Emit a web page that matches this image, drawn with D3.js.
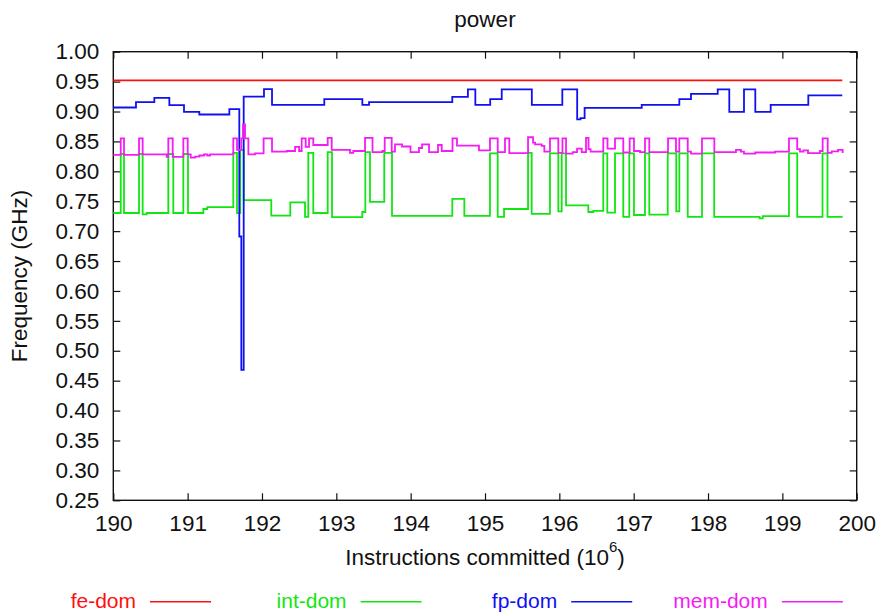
<!DOCTYPE html>
<html>
<head>
<meta charset="utf-8">
<script src="https://cdn.jsdelivr.net/npm/d3@7"></script>
<style>
  html, body { margin: 0; padding: 0; background: #fff; }
  svg { display: block; font-family: "Liberation Sans", Arial, Helvetica, sans-serif; }
</style>
</head>
<body>
<svg id="chart" width="880" height="613"></svg>
<script>
// ---- data ---------------------------------------------------------------
const chartTitle = "power";
const xAxisLabel = "Instructions committed (10";
const xAxisExponent = "6";
const yAxisLabel = "Frequency (GHz)";

const xTicks = [190, 191, 192, 193, 194, 195, 196, 197, 198, 199, 200];
const yTicks = [0.25, 0.30, 0.35, 0.40, 0.45, 0.50, 0.55, 0.60, 0.65, 0.70,
                0.75, 0.80, 0.85, 0.90, 0.95, 1.00];

const seriesNames = ["fe-dom", "int-dom", "fp-dom", "mem-dom"];

// each entry: [instructions (10^6), frequency (GHz)], held until the next entry
const feDom = [[190.000, 0.952], [199.806, 0.952]];

const intDom = [
  [190.000, 0.7303], [190.100, 0.829], [190.144, 0.7303], [190.346, 0.829],
  [190.395, 0.728], [190.449, 0.7303], [190.740, 0.829], [190.807, 0.7303],
  [190.942, 0.829], [191.005, 0.7303], [191.211, 0.737], [191.264, 0.740],
  [191.614, 0.831], [191.664, 0.730], [191.708, 0.836], [191.754, 0.752],
  [192.125, 0.726], [192.381, 0.748], [192.579, 0.724], [192.623, 0.831],
  [192.690, 0.7303], [192.884, 0.832], [192.942, 0.7235], [193.349, 0.732],
  [193.390, 0.832], [193.453, 0.749], [193.645, 0.831], [193.749, 0.7255],
  [194.560, 0.754], [194.722, 0.7255], [195.067, 0.830], [195.171, 0.7237],
  [195.256, 0.737], [195.579, 0.831], [195.628, 0.7287], [195.874, 0.830],
  [195.986, 0.733], [196.032, 0.830], [196.090, 0.743], [196.390, 0.732],
  [196.457, 0.734], [196.591, 0.830], [196.645, 0.731], [196.749, 0.830],
  [196.860, 0.7237], [196.941, 0.830], [197.004, 0.727], [197.152, 0.830],
  [197.210, 0.7275], [197.458, 0.830], [197.573, 0.733], [197.614, 0.830],
  [197.727, 0.7237], [197.919, 0.830], [198.083, 0.7237], [198.693, 0.7215],
  [198.736, 0.725], [199.089, 0.830], [199.200, 0.7237], [199.540, 0.830],
  [199.607, 0.7237], [199.811, 0.7237]
];

const fpDom = [
  [190.000, 0.9067], [190.305, 0.9156], [190.552, 0.9229], [190.754, 0.9106],
  [190.951, 0.8994], [191.157, 0.8950], [191.561, 0.9040], [191.695, 0.6910],
  [191.722, 0.4680], [191.754, 0.9250], [192.027, 0.9373], [192.135, 0.9110],
  [192.838, 0.9206], [193.350, 0.9110], [193.440, 0.9156], [194.560, 0.9245],
  [194.770, 0.9370], [194.870, 0.9110], [195.070, 0.9206], [195.225, 0.9370],
  [195.630, 0.9110], [196.040, 0.9370], [196.240, 0.8870], [196.285, 0.8890],
  [196.340, 0.9060], [197.108, 0.9110], [197.614, 0.9206], [197.771, 0.9295],
  [198.130, 0.9370], [198.286, 0.8994], [198.484, 0.9370], [198.636, 0.8994],
  [198.843, 0.9110], [199.349, 0.9270], [199.806, 0.9270]
];

const memDom = [
  [190.000, 0.8275], [190.100, 0.855], [190.144, 0.8275], [190.346, 0.855],
  [190.395, 0.8285], [190.718, 0.824], [190.740, 0.855], [190.799, 0.824],
  [190.942, 0.855], [191.001, 0.8285], [191.041, 0.823], [191.099, 0.8245],
  [191.157, 0.8265], [191.220, 0.8285], [191.264, 0.8265], [191.301, 0.8285],
  [191.614, 0.855], [191.664, 0.8357], [191.722, 0.855], [191.745, 0.8786],
  [191.772, 0.855], [191.817, 0.8285], [191.906, 0.830], [192.022, 0.855],
  [192.135, 0.833], [192.333, 0.834], [192.445, 0.841], [192.499, 0.834],
  [192.534, 0.855], [192.588, 0.841], [192.633, 0.855], [192.690, 0.844],
  [192.884, 0.856], [192.938, 0.836], [193.184, 0.831], [193.228, 0.834],
  [193.386, 0.856], [193.487, 0.832], [193.619, 0.834], [193.651, 0.856],
  [193.745, 0.833], [193.789, 0.845], [193.884, 0.8415], [193.998, 0.832],
  [194.112, 0.839], [194.153, 0.845], [194.247, 0.832], [194.368, 0.844],
  [194.418, 0.834], [194.563, 0.855], [194.623, 0.843], [194.919, 0.835],
  [195.067, 0.855], [195.171, 0.832], [195.269, 0.855], [195.327, 0.8305],
  [195.579, 0.857], [195.646, 0.848], [195.673, 0.845], [195.763, 0.8425],
  [195.798, 0.833], [195.874, 0.855], [195.986, 0.831], [196.042, 0.855],
  [196.090, 0.8295], [196.180, 0.832], [196.238, 0.838], [196.301, 0.832],
  [196.359, 0.856], [196.393, 0.837], [196.420, 0.833], [196.591, 0.855],
  [196.648, 0.838], [196.749, 0.855], [196.860, 0.8315], [196.946, 0.855],
  [197.004, 0.834], [197.085, 0.832], [197.152, 0.855], [197.210, 0.832],
  [197.462, 0.855], [197.569, 0.833], [197.614, 0.855], [197.727, 0.833],
  [197.771, 0.8295], [197.919, 0.855], [198.085, 0.832], [198.376, 0.836],
  [198.443, 0.833], [198.484, 0.8295], [198.635, 0.8315], [198.901, 0.833],
  [199.089, 0.855], [199.200, 0.837], [199.237, 0.833], [199.282, 0.835],
  [199.345, 0.8305], [199.506, 0.834], [199.542, 0.855], [199.610, 0.831],
  [199.664, 0.8335], [199.749, 0.836], [199.811, 0.8305]
];

// ---- layout & style -----------------------------------------------------
const plot = { left: 113.3, right: 856.7, top: 51.7, bottom: 500.3 };
const colors = ["#ff1010", "#12e612", "#1010f0", "#f41cf4"];
const ink = "#111";
const fontSize = 22.5;
const legendFontSize = 21;

const svg = d3.select("#chart");

const x = d3.scaleLinear().domain([190, 200]).range([plot.left, plot.right]);
const y = d3.scaleLinear().domain([0.25, 1.00]).range([plot.bottom, plot.top]);

// ---- axes (ticks point inward, mirrored on top/right) -------------------
function styleAxis(g) {
  g.select(".domain").remove();
  g.selectAll(".tick line").attr("stroke", ink).attr("stroke-width", 1.2);
  g.selectAll(".tick text").attr("fill", ink).attr("font-size", fontSize)
    .attr("font-family", "Liberation Sans, Arial, sans-serif");
}

svg.append("g")
  .attr("transform", `translate(0,${plot.bottom})`)
  .call(d3.axisBottom(x).tickValues(xTicks).tickFormat(d3.format("d"))
        .tickSizeInner(-7).tickSizeOuter(0).tickPadding(14.5))
  .call(styleAxis);

svg.append("g")
  .attr("transform", `translate(${plot.left},0)`)
  .call(d3.axisLeft(y).tickValues(yTicks).tickFormat(d3.format(".2f"))
        .tickSizeInner(-7).tickSizeOuter(0).tickPadding(14))
  .call(styleAxis);

svg.append("g")
  .attr("transform", `translate(0,${plot.top})`)
  .call(d3.axisTop(x).tickValues(xTicks).tickFormat("")
        .tickSizeInner(-7).tickSizeOuter(0))
  .call(styleAxis);

svg.append("g")
  .attr("transform", `translate(${plot.right},0)`)
  .call(d3.axisRight(y).tickValues(yTicks).tickFormat("")
        .tickSizeInner(-7).tickSizeOuter(0))
  .call(styleAxis);

// plot frame
svg.append("rect")
  .attr("x", plot.left).attr("y", plot.top)
  .attr("width", plot.right - plot.left).attr("height", plot.bottom - plot.top)
  .attr("fill", "none").attr("stroke", ink).attr("stroke-width", 1.4);

// ---- step series --------------------------------------------------------
const line = d3.line()
  .x(d => x(d[0]))
  .y(d => y(d[1]))
  .curve(d3.curveStepAfter);

const seriesData = [feDom, intDom, fpDom, memDom];
seriesData.forEach((data, i) => {
  svg.append("path")
    .datum(data)
    .attr("d", line)
    .attr("fill", "none")
    .attr("stroke", colors[i])
    .attr("stroke-width", 1.8)
    .attr("stroke-linejoin", "miter");
});

// ---- titles -------------------------------------------------------------
const midX = (plot.left + plot.right) / 2;
const midY = (plot.top + plot.bottom) / 2;

svg.append("text")
  .attr("x", midX).attr("y", 27)
  .attr("text-anchor", "middle")
  .attr("font-size", fontSize).attr("fill", ink)
  .text(chartTitle);

const xl = svg.append("text")
  .attr("x", midX).attr("y", 565)
  .attr("text-anchor", "middle")
  .attr("font-size", fontSize).attr("fill", ink);
xl.append("tspan").text(xAxisLabel);
xl.append("tspan").attr("dy", -13).attr("font-size", 15).text(xAxisExponent);
xl.append("tspan").attr("dy", 13).text(")");

svg.append("text")
  .attr("transform", `translate(27,${midY}) rotate(-90)`)
  .attr("text-anchor", "middle")
  .attr("font-size", fontSize).attr("fill", ink)
  .text(yAxisLabel);

// ---- legend (below the plot, text then sample line) ---------------------
const legendY = 601.7;
const legend = svg.append("g");
seriesNames.forEach((name, i) => {
  const x0 = 150 + i * 210.6;
  legend.append("text")
    .attr("x", x0 - 14).attr("y", legendY + 6.3)
    .attr("text-anchor", "end")
    .attr("font-size", legendFontSize)
    .attr("fill", colors[i])
    .text(name);
  legend.append("line")
    .attr("x1", x0).attr("x2", x0 + 61)
    .attr("y1", legendY).attr("y2", legendY)
    .attr("stroke", colors[i]).attr("stroke-width", 1.5);
});
</script>
</body>
</html>
